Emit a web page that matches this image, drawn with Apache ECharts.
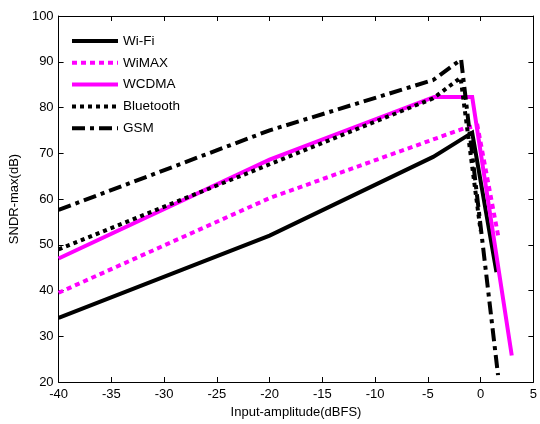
<!DOCTYPE html>
<html>
<head>
<meta charset="utf-8">
<script src="https://cdn.jsdelivr.net/npm/echarts@6/dist/echarts.min.js"></script>
<style>
  html, body { margin: 0; padding: 0; background: #fff; }
  #chart { width: 540px; height: 424px; }
</style>
</head>
<body>
<div id="chart"></div>
<script>
// [input amplitude (dBFS), SNDR-max (dB)]
var wifi      = [[-40, 34], [-20, 52], [-4.5, 69.2], [-0.8, 74.5], [1.5, 44]];
var wimax     = [[-40, 39.5], [-20, 60.2], [-1.5, 75.5], [-0.3, 76], [1.7, 51.5]];
var wcdma     = [[-40, 47], [-20, 68.6], [-4.4, 82.3], [-0.8, 82.3], [2.95, 25.8]];
var bluetooth = [[-40, 49], [-20, 67.6], [-4.5, 82], [-1.9, 86.5], [0, 53]];
var gsm       = [[-40, 57.6], [-20, 75], [-4.5, 86], [-1.85, 90.5], [1.65, 21.5]];

var xTicks = [-40, -35, -30, -25, -20, -15, -10, -5, 0, 5];
var yTicks = [20, 30, 40, 50, 60, 70, 80, 90, 100];

var chart = echarts.init(document.getElementById('chart'));

var font = 'Liberation Sans, Arial, sans-serif';

function mkSeries(name, data, color, type, z) {
  return {
    name: name,
    type: 'line',
    data: data,
    symbol: 'none',
    z: z,
    lineStyle: { color: color, width: 4, type: type, cap: 'butt', join: 'miter' },
    itemStyle: { color: color },
    animation: false
  };
}

var axisCommon = {
  axisLine: { onZero: false, lineStyle: { color: '#000', width: 1 } },
  axisTick: { inside: true, length: 5, lineStyle: { color: '#000' } },
  splitLine: { show: false }
};

chart.setOption({
  backgroundColor: '#fff',
  animation: false,
  grid: { left: 54, right: 5, top: 16, bottom: 42 },
  legend: {
    orient: 'vertical',
    left: 65,
    top: 29,
    itemWidth: 46,
    itemHeight: 10,
    itemGap: 7.8,
    itemStyle: { opacity: 0 },
    lineStyle: { width: 4 },
    textStyle: { fontFamily: font, fontSize: 13.5, color: '#000' },
    data: ['Wi-Fi', 'WiMAX', 'WCDMA', 'Bluetooth', 'GSM']
  },
  xAxis: [
    Object.assign({
      type: 'value', min: xTicks[0], max: xTicks[xTicks.length - 1], interval: 5,
      name: 'Input-amplitude(dBFS)', nameLocation: 'middle', nameGap: 22,
      nameTextStyle: { fontFamily: font, fontSize: 13, color: '#000' },
      axisLabel: { fontFamily: font, fontSize: 13, color: '#000', margin: 6 }
    }, axisCommon),
    Object.assign({
      type: 'value', position: 'top', min: xTicks[0], max: xTicks[xTicks.length - 1], interval: 5,
      axisLabel: { show: false }
    }, axisCommon)
  ],
  yAxis: [
    Object.assign({
      type: 'value', min: yTicks[0], max: yTicks[yTicks.length - 1], interval: 10,
      name: 'SNDR-max(dB)', nameLocation: 'middle', nameGap: 31,
      nameTextStyle: { fontFamily: font, fontSize: 13, color: '#000' },
      axisLabel: { fontFamily: font, fontSize: 13, color: '#000', margin: 5 }
    }, axisCommon),
    Object.assign({
      type: 'value', position: 'right', min: yTicks[0], max: yTicks[yTicks.length - 1], interval: 10,
      axisLabel: { show: false }
    }, axisCommon)
  ],
  series: [
    mkSeries('Wi-Fi', wifi, '#000000', 'solid', 2),
    mkSeries('WiMAX', wimax, '#ff00ff', [5, 4], 2),
    mkSeries('WCDMA', wcdma, '#ff00ff', 'solid', 3),
    mkSeries('Bluetooth', bluetooth, '#000000', [4, 4], 4),
    mkSeries('GSM', gsm, '#000000', [13, 5, 4, 5], 5)
  ]
});
</script>
</body>
</html>
